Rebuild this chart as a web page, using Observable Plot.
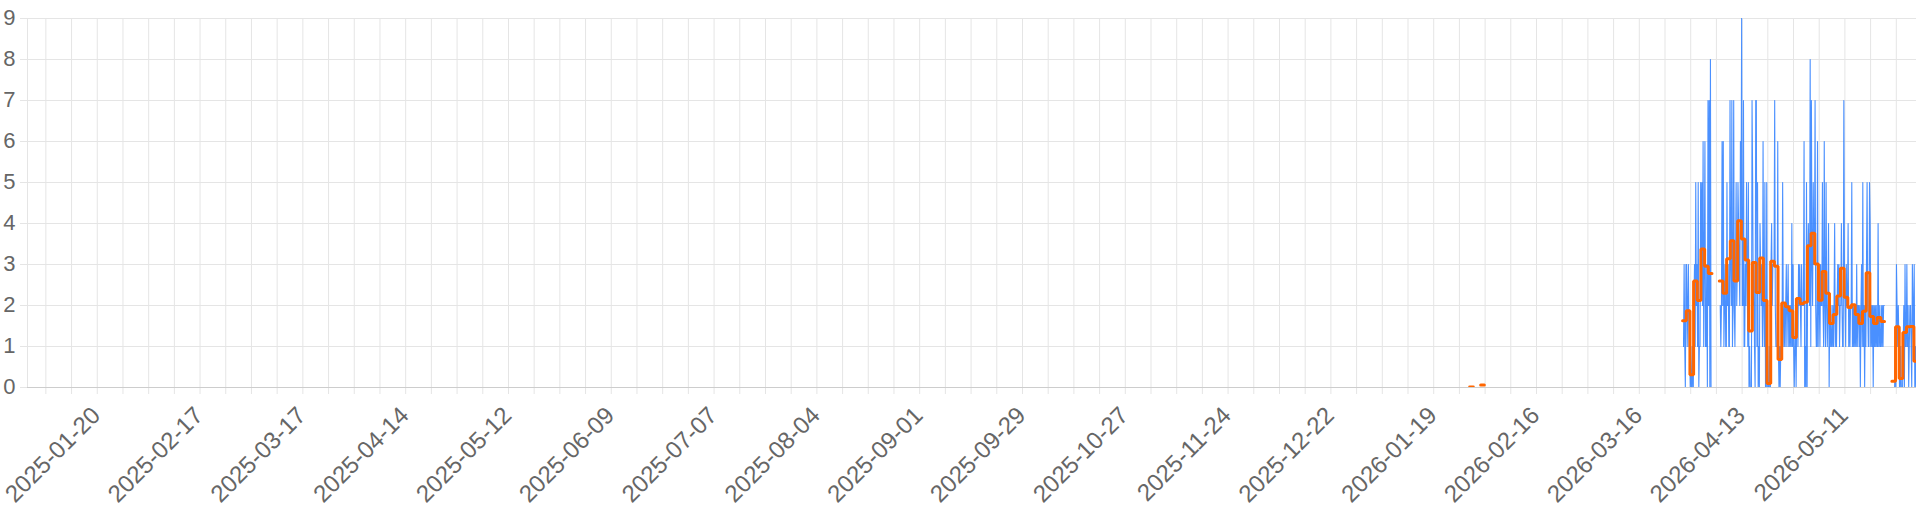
<!DOCTYPE html>
<html>
<head>
<meta charset="utf-8">
<script src="https://cdn.jsdelivr.net/npm/d3@7"></script>
<script src="https://cdn.jsdelivr.net/npm/@observablehq/plot@0.6"></script>
<style>
  html, body { margin: 0; padding: 0; background: #fff; }
  #chart svg { display: block; }
</style>
</head>
<body>
<div id="chart"></div>
<script>
// ---------- data ----------
const xDomain = ["2025-01-01T00:00Z", "2026-05-30T12:00Z"];
const yTicks = [0, 1, 2, 3, 4, 5, 6, 7, 8, 9];
const xTickLabels = [
  "2025-01-20", "2025-02-17", "2025-03-17", "2025-04-14", "2025-05-12", "2025-06-09",
  "2025-07-07", "2025-08-04", "2025-09-01", "2025-09-29", "2025-10-27", "2025-11-24",
  "2025-12-22", "2026-01-19", "2026-02-16", "2026-03-16", "2026-04-13", "2026-05-11"
];

// blue series: 4-hourly samples, six per day, starting 2026-03-27 21:00
const blueStart = "2026-03-27T21:00Z";
const blueMarch = [
  null,1,3,1,0,3,  3,1,2,3,1,1,  0,1,0,0,1,0,  2,3,1,5,2,3
];
const blueApril = [
  1,5,0,1,1,5,  3,5,2,6,1,3,  6,1,1,3,0,7,  2,7,0,8,0,0,
  null,null,null,null,null,null,  null,null,null,null,null,null,
  null,2,1,2,6,2,  6,1,2,3,1,1,  5,2,3,1,1,7,  3,2,7,1,2,7,
  2,1,3,5,2,3,  5,4,3,2,6,4,  9,2,2,7,1,1,  3,2,5,3,1,5,
  0,1,0,0,0,7,  5,2,3,1,0,7,  7,1,5,0,1,0,  4,3,2,3,1,6,
  2,1,5,0,0,5,  0,0,0,1,0,0,  3,4,2,3,3,3,  7,2,1,1,1,6,
  1,0,1,0,1,1,  1,5,2,1,2,1,  2,3,1,2,3,1,  2,1,2,1,4,1,
  3,1,0,1,2,0,  2,2,1,3,2,3,  2,1,3,2,2,2,  6,0,1,0,5,0
];
const blueMay = [
  3,4,3,2,8,1,  7,3,2,5,3,3,  7,2,1,1,6,1,  3,2,1,3,2,2,
  5,2,1,6,2,1,  5,2,1,2,4,0,  2,1,2,1,1,2,  1,2,4,1,2,1,
  2,3,2,3,1,2,  2,4,2,1,1,7,  3,2,1,3,2,2,  4,1,2,1,2,2,
  5,1,2,1,2,1,  2,1,3,1,2,2,  1,2,0,2,3,1,  5,1,2,0,2,1,
  3,5,2,1,1,5,  4,1,2,1,2,0,  2,1,2,1,2,1,  1,4,1,2,1,1,
  2,1,2,1,2,2,
  null,null,null,null,null,null,  null,null,null,null,null,null,
  0,0,0,0,0,1,  0,3,2,1,2,1,  0,0,1,0,0,0,  1,2,0,3,1,1,
  3,1,2,0,1,2,  2,1,0,3,2,1,  3,0,1,0,0,0
];

// orange series: daily values starting 2026-03-28
const orangeStart = "2026-03-28";
const orangeMarch = [1.63, 1.87, 0.31, 2.6];
const orangeApril = [
  2.12, 3.38, 2.96, 2.78, null, null, 2.6, 2.3, 3.14, 3.58,
  2.6, 4.07, 3.62, 3.11, 1.38, 3.05, 2.32, 3.16, 2.12, 0.1,
  3.08, 2.96, 0.68, 2.06, 1.97, 1.87, 1.22, 2.17, 2.04, 2.08
];
const orangeMay = [
  3.46, 3.76, 3.01, 2.13, 2.83, 2.3, 1.56, 1.78, 2.23, 2.91,
  2.2, 1.95, 2.02, 1.78, 1.56, 1.86, 2.8, 1.73, 1.56, 1.71,
  1.61, null, null, 0.15, 1.48, 0.22, 1.34, 1.48, 1.49, 0.64
];
const orangeEarlyDays = ["2026-01-29", "2026-02-01"];
const orangeEarlyValues = [0.01, 0.06];

// ---------- build tables ----------
const HOUR = 36e5, DAY = 864e5;
const blueValues = [...blueMarch, ...blueApril, ...blueMay];
const b0 = new Date(blueStart).getTime();
const blueRows = blueValues.map((v, i) => ({t: new Date(b0 + i * 4 * HOUR), v}));

function dailySteps(startDay, values) {
  const s = new Date(startDay + "T00:00Z").getTime();
  const rows = [];
  values.forEach((v, i) => {
    const t0 = s + i * DAY - 5 * HOUR; // each daily value holds from 19:00 of the previous day
    rows.push({t: new Date(t0), v});
    if (v != null && values[i + 1] == null) rows.push({t: new Date(t0 + DAY), v});
  });
  return rows;
}
const orangeRows = dailySteps(orangeStart, [...orangeMarch, ...orangeApril, ...orangeMay]);
const earlyRows = [];
orangeEarlyDays.forEach((d, i) => {
  earlyRows.push(...dailySteps(d, [orangeEarlyValues[i]]), {t: new Date(d + "T12:00Z"), v: null});
});

const mondays = d3.utcMonday.range(new Date("2025-01-05T00:00Z"), new Date(xDomain[1]));

// ---------- chart ----------
const FONT = "'Liberation Sans', Arial, Helvetica, sans-serif";
const chart = Plot.plot({
  width: 1920,
  height: 512,
  marginLeft: 27,
  marginRight: 4,
  marginTop: 18,
  marginBottom: 125,
  style: {fontFamily: FONT, background: "#fff"},
  x: {type: "utc", domain: xDomain.map(d => new Date(d)), axis: null},
  y: {domain: [0, 9], axis: null},
  marks: [
    Plot.ruleX(mondays, {x: d => d, stroke: "#e5e5e5", strokeWidth: 1, insetBottom: -7}),
    Plot.ruleY(yTicks, {y: d => d, stroke: "#e5e5e5", strokeWidth: 1, insetLeft: -7}),
    Plot.ruleX([new Date(xDomain[0])], {stroke: "#e5e5e5"}),
    Plot.ruleY([0], {stroke: "#cdcdcd", strokeWidth: 1}),
    Plot.line(blueRows, {x: "t", y: "v", stroke: "#2a7cff", strokeWidth: 1.1, strokeOpacity: 0.85, clip: true}),
    Plot.line(orangeRows, {x: "t", y: "v", curve: "step-after", stroke: "#ff6600", strokeWidth: 3, strokeLinejoin: "miter", clip: true}),
    Plot.line(earlyRows, {x: "t", y: "v", curve: "step-after", stroke: "#ff6600", strokeWidth: 3, clip: true}),
    Plot.text(yTicks, {y: d => d, text: d => String(d), frameAnchor: "left", textAnchor: "end", dx: -12, dy: -1, fontSize: 22, fill: "#666"}),
    Plot.text(xTickLabels, {x: d => new Date(d + "T00:00Z"), text: d => d, frameAnchor: "bottom", rotate: -45, textAnchor: "end", lineAnchor: "middle", dx: -1, dy: 24, fontSize: 24, fill: "#666"})
  ]
});
document.getElementById("chart").appendChild(chart);
</script>
</body>
</html>
